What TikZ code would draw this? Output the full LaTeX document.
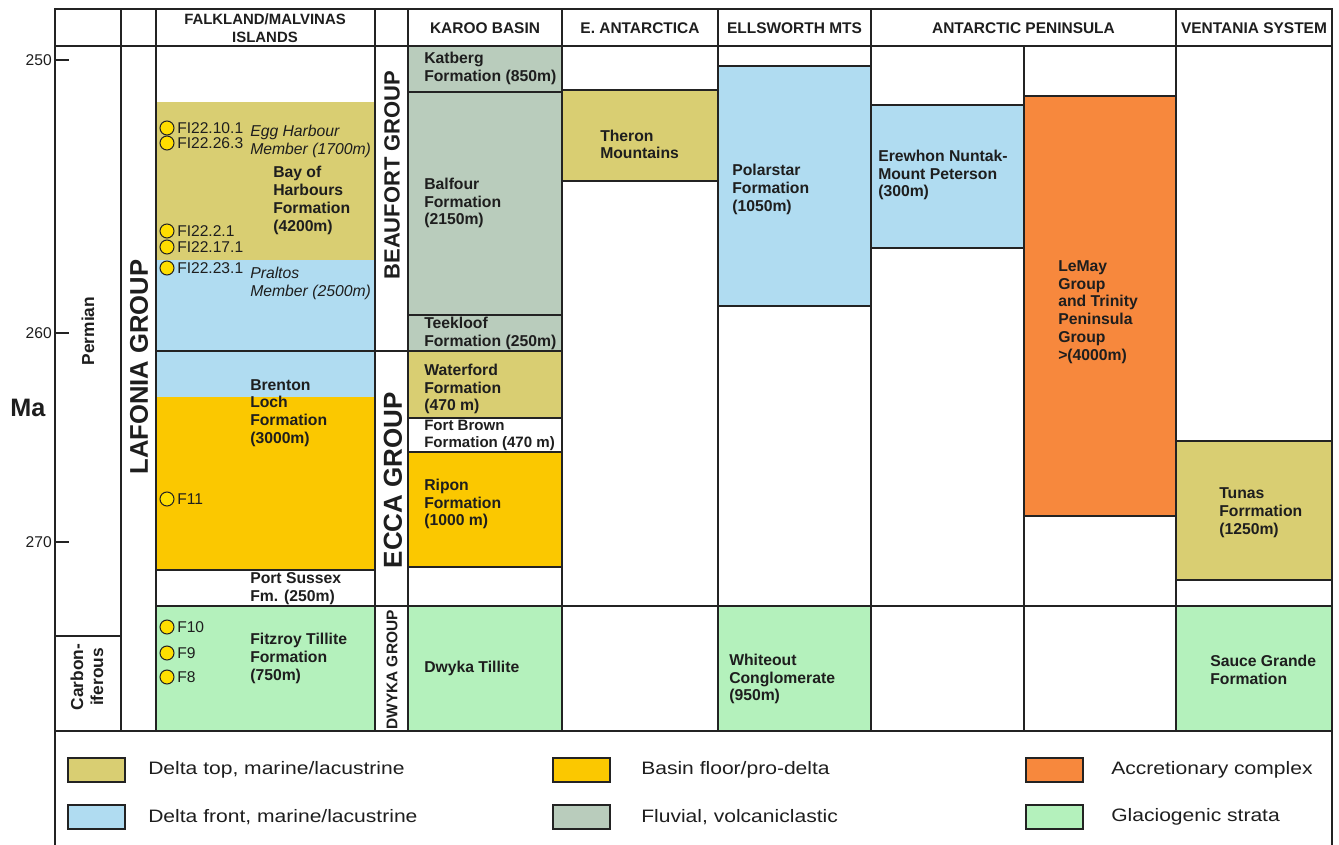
\documentclass[tikz,border=0pt]{standalone}
\usepackage{fontspec}
\setmainfont{Liberation Sans}
\newfontfamily\legfont[FakeStretch=1.17]{Liberation Sans}
\definecolor{dtop}{RGB}{217,206,114}
\definecolor{dfront}{RGB}{176,220,241}
\definecolor{bfloor}{RGB}{251,200,0}
\definecolor{fluv}{RGB}{185,204,188}
\definecolor{accr}{RGB}{247,136,61}
\definecolor{glac}{RGB}{180,241,188}
\definecolor{lnc}{RGB}{35,35,35}
\definecolor{txt}{RGB}{30,30,30}
\definecolor{smpc}{RGB}{255,222,0}
\tikzset{
  thinln/.style={draw=lnc, line width=1.1pt},
  thickln/.style={draw=lnc, line width=1.9pt},
  hdr/.style={font=\bfseries\fontsize{11.6}{13.5}\selectfont, align=center, inner sep=0, text=txt},
  lbl/.style={font=\bfseries\fontsize{11.8}{13.3}\selectfont, align=left, anchor=west, inner sep=0, text=txt},
  ilbl/.style={font=\itshape\fontsize{11.8}{13.3}\selectfont, align=left, anchor=west, inner sep=0, text=txt},
  slbl/.style={font=\fontsize{11.7}{13.3}\selectfont, anchor=west, inner sep=0, text=txt},
  smp/.style={circle, draw=lnc, fill=smpc, line width=0.8pt, minimum size=10.5pt, inner sep=0},
  grp/.style={font=\bfseries, rotate=90, inner sep=0, text=txt},
  tick/.style={draw=lnc, line width=1.1pt},
  agelbl/.style={font=\fontsize{11.7}{13.3}\selectfont, anchor=east, inner sep=0, text=txt},
  swatch/.style={draw=lnc, line width=0.9pt, minimum width=42.75pt, minimum height=18pt, inner sep=0},
  leg/.style={font=\legfont\fontsize{13.5}{16}\selectfont, anchor=west, inner sep=0, text=txt}
}
\begin{document}
\begin{tikzpicture}[x=0.75pt,y=-0.75pt]
\useasboundingbox (0,0) rectangle (1339,845);
% ---------- fills ----------
% Falkland
\fill[dtop] (156,102) rectangle (375,260);
\fill[dfront] (156,260) rectangle (375,397);
\fill[bfloor] (156,397) rectangle (375,570);
\fill[glac] (156,606) rectangle (375,731);
% Karoo
\fill[fluv] (408,46) rectangle (562,351);
\fill[dtop] (408,351) rectangle (562,418);
\fill[bfloor] (408,452) rectangle (562,567);
\fill[glac] (408,606) rectangle (562,731);
% E. Antarctica
\fill[dtop] (562,90) rectangle (718,181);
% Ellsworth
\fill[dfront] (718,66) rectangle (871,306);
\fill[glac] (718,606) rectangle (871,731);
% Antarctic Peninsula
\fill[dfront] (871,105) rectangle (1024,248);
\fill[accr] (1024,96) rectangle (1176,516);
% Ventania
\fill[dtop] (1176,441) rectangle (1332,580);
\fill[glac] (1176,606) rectangle (1332,731);
% ---------- thin lines ----------
\draw[thinln] (156,351) -- (562,351);
\draw[thinln] (156,570) -- (375,570);
\draw[thinln] (156,606) -- (1332,606);
\draw[thinln] (55,636) -- (121,636);
\draw[thinln] (408,92) -- (562,92);
\draw[thinln] (408,315) -- (562,315);
\draw[thinln] (408,418) -- (562,418);
\draw[thinln] (408,452) -- (562,452);
\draw[thinln] (408,567) -- (562,567);
\draw[thinln] (562,90) -- (718,90);
\draw[thinln] (562,181) -- (718,181);
\draw[thinln] (718,66) -- (871,66);
\draw[thinln] (718,306) -- (871,306);
\draw[thinln] (871,105) -- (1024,105);
\draw[thinln] (871,248) -- (1024,248);
\draw[thinln] (1024,96) -- (1176,96);
\draw[thinln] (1024,516) -- (1176,516);
\draw[thinln] (1176,441) -- (1332,441);
\draw[thinln] (1176,580) -- (1332,580);
\foreach \xx in {121,375,408,562,718,871,1176} {\draw[thinln] (\xx,9) -- (\xx,731);}
\draw[thinln] (1024,46) -- (1024,731);
\draw[thinln, line width=1.5pt] (156,9) -- (156,731);
% ---------- thick frame ----------
\draw[thickln] (55,9) -- (1332,9);
\draw[thickln] (55,46) -- (1332,46);
\draw[thickln] (55,731) -- (1332,731);
\draw[thickln] (55,8) -- (55,845);
\draw[thickln] (1332,8) -- (1332,845);
% ---------- age scale ----------
\draw[tick] (55,60) -- (69,60);
\draw[tick] (55,333) -- (69,333);
\draw[tick] (55,542) -- (69,542);
\node[agelbl] (a250) at (52,60) {250};
\node[agelbl] (a260) at (52,333) {260};
\node[agelbl] (a270) at (52,542) {270};
\node[font=\bfseries\fontsize{18.9}{20}\selectfont, inner sep=0, text=txt] (ma) at (28,408) {Ma};
\node[grp, font=\bfseries\fontsize{13}{15}\selectfont] (perm) at (88,331) {Permian};
\node[grp, font=\bfseries\fontsize{13}{15}\selectfont, align=center] (carb) at (87,677) {Carbon-\\iferous};
% ---------- headers ----------
\node[hdr, font=\bfseries\fontsize{11.2}{13.5}\selectfont] (hF) at (265,28.5) {FALKLAND/MALVINAS\\ISLANDS};
\node[hdr] (hK) at (485,28) {KAROO BASIN};
\node[hdr] (hE) at (640,28) {E. ANTARCTICA};
\node[hdr] (hL) at (794.5,28) {ELLSWORTH MTS};
\node[hdr] (hA) at (1023.5,28) {ANTARCTIC PENINSULA};
\node[hdr] (hV) at (1254,28) {VENTANIA SYSTEM};
% ---------- group labels ----------
\node[grp, font=\bfseries\fontsize{19.2}{20}\selectfont] (lafonia) at (139,367) {LAFONIA GROUP};
\node[grp, font=\bfseries\fontsize{16.5}{18}\selectfont] (beaufort) at (392,175) {BEAUFORT GROUP};
\node[grp, font=\bfseries\fontsize{19.5}{20}\selectfont] (ecca) at (393,480) {ECCA GROUP};
\node[grp, font=\bfseries\fontsize{11.6}{13}\selectfont] (dwyka) at (392,670) {DWYKA GROUP};
% ---------- Falkland texts ----------
\node[ilbl] (egg) at (250,141.5) {Egg Harbour\\Member (1700m)};
\node[lbl] (bay) at (273,200.5) {Bay of\\Harbours\\Formation\\(4200m)};
\node[ilbl] (pral) at (250,283.5) {Praltos\\Member (2500m)};
\node[lbl] (bren) at (250,413) {Brenton\\Loch\\Formation\\(3000m)};
\node[lbl] (port) at (250,589) {Port Sussex\\Fm. (250m)};
\node[lbl] (fitz) at (250,658.5) {Fitzroy Tillite\\Formation\\(750m)};
% samples
\node[smp] (c1) at (167,128) {};
\node[slbl] (t1) at (177,128) {FI22.10.1};
\node[smp] (c2) at (167,143) {};
\node[slbl] (t2) at (177,143) {FI22.26.3};
\node[smp] (c3) at (167,231) {};
\node[slbl] (t3) at (177,231) {FI22.2.1};
\node[smp] (c4) at (167,247) {};
\node[slbl] (t4) at (177,247) {FI22.17.1};
\node[smp] (c5) at (167,268) {};
\node[slbl] (t5) at (177,268) {FI22.23.1};
\node[smp] (c6) at (167,499) {};
\node[slbl] (t6) at (177,499) {F11};
\node[smp] (c7) at (167,627) {};
\node[slbl] (t7) at (177,627) {F10};
\node[smp] (c8) at (167,653) {};
\node[slbl] (t8) at (177,653) {F9};
\node[smp] (c9) at (167,677) {};
\node[slbl] (t9) at (177,677) {F8};
% ---------- Karoo texts ----------
\node[lbl] (kat) at (424,68.5) {Katberg\\Formation (850m)};
\node[lbl] (bal) at (424,203) {Balfour\\Formation\\(2150m)};
\node[lbl] (tee) at (424,333.5) {Teekloof\\Formation (250m)};
\node[lbl] (wat) at (424,389) {Waterford\\Formation\\(470 m)};
\node[lbl, font=\bfseries\fontsize{11.3}{12.8}\selectfont] (fort) at (424,435.5) {Fort Brown\\Formation (470 m)};
\node[lbl] (rip) at (424,504) {Ripon\\Formation\\(1000 m)};
\node[lbl] (dwt) at (424,668) {Dwyka Tillite};
% ---------- other columns ----------
\node[lbl] (ther) at (600,144.5) {Theron\\Mountains};
\node[lbl] (pol) at (732,189.5) {Polarstar\\Formation\\(1050m)};
\node[lbl] (whi) at (729,679) {Whiteout\\Conglomerate\\(950m)};
\node[lbl] (ere) at (878,175) {Erewhon Nuntak-\\Mount Peterson\\(300m)};
\node[lbl] (lem) at (1058,312) {LeMay\\Group\\and Trinity\\Peninsula\\Group\\>(4000m)};
\node[lbl] (tun) at (1219,512.5) {Tunas\\Forrmation\\(1250m)};
\node[lbl] (sau) at (1210,670) {Sauce Grande\\Formation};
% ---------- legend ----------
\node[swatch, fill=dtop] (sw1) at (96.5,770) {};
\node[leg] (l1) at (148,770) {Delta top, marine/lacustrine};
\node[swatch, fill=dfront] (sw2) at (96.5,817) {};
\node[leg] (l2) at (148,817) {Delta front, marine/lacustrine};
\node[swatch, fill=bfloor] (sw3) at (581.5,770) {};
\node[leg] (l3) at (641,770) {Basin floor/pro-delta};
\node[swatch, fill=fluv] (sw4) at (581.5,817) {};
\node[leg] (l4) at (641,817) {Fluvial, volcaniclastic};
\node[swatch, fill=accr] (sw5) at (1054.5,770) {};
\node[leg] (l5) at (1111,770) {Accretionary complex};
\node[swatch, fill=glac] (sw6) at (1054.5,817) {};
\node[leg] (l6) at (1111,817) {Glaciogenic strata};
\end{tikzpicture}
\end{document}
